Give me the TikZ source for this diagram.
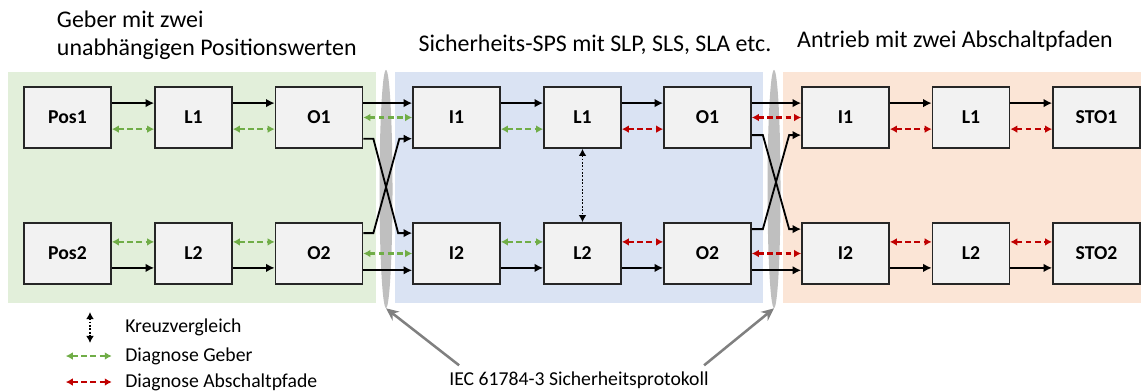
\documentclass[tikz,border=0pt]{standalone}
\usepackage{fontspec}
\setmainfont{Carlito}
\usetikzlibrary{shapes.geometric,arrows.meta,positioning,calc}
\definecolor{geberbg}{HTML}{E2EFDA}
\definecolor{spsbg}{HTML}{DAE3F3}
\definecolor{antrbg}{HTML}{FBE5D6}
\definecolor{diaggreen}{HTML}{70AD47}
\definecolor{diagred}{HTML}{C00000}
\definecolor{boxfill}{HTML}{F2F2F2}
\definecolor{protgray}{HTML}{BFBFBF}

\begin{document}
\begin{tikzpicture}[x=0.025cm,y=-0.025cm,
  blk/.style={draw=black!85,fill=boxfill,line width=1.2pt,minimum width=2.175cm,
              minimum height=1.525cm,inner sep=0pt,
              font=\fontsize{14}{16}\selectfont\bfseries},
  blks/.style={blk,minimum width=1.925cm},
  flow/.style={-{Latex[length=6pt,width=6pt]},line width=1.3pt,black},
  dg/.style={{Latex[length=5pt,width=5.5pt]}-{Latex[length=5pt,width=5.5pt]},
             line width=1.5pt,dash pattern=on 4pt off 2.5pt,color=diaggreen},
  dr/.style={dg,color=diagred},
  kv/.style={{Latex[length=5pt,width=5.5pt]}-{Latex[length=5pt,width=5.5pt]},
             line width=1.4pt,dash pattern=on 1.2pt off 1.2pt,black},
  sep/.style={ellipse,fill=protgray,minimum width=0.325cm,
              minimum height=5.95cm,inner sep=0pt},
  prot/.style={-{Stealth[length=9pt,width=8pt]},line width=1.8pt,color=black!50},
  ttl/.style={font=\fontsize{17}{20}\selectfont,align=left},
  lgd/.style={font=\fontsize{14}{16}\selectfont,anchor=west,inner sep=0pt}
]
\useasboundingbox (0,0) rectangle (1141,391);

% Bereiche
\fill[geberbg] (8,72)   rectangle (376,303);
\fill[spsbg]   (395,72) rectangle (763,303);
\fill[antrbg]  (783,72) rectangle (1141,303);
\node[sep] (sep1) at (386,189) {};
\node[sep] (sep2) at (774,189) {};

\node[ttl,anchor=west] (tgeber) at (52,35) {Geber mit zwei\\unabh\"angigen Positionswerten};
\node[ttl] (tsps)  at (595,45) {Sicherheits-SPS mit SLP, SLS, SLA etc.};
\node[ttl] (tantr) at (955,41) {Antrieb mit zwei Abschaltpfaden};

% Geber
\node[blk]  (pos1) at (67.5,117.5)  {Pos1};
\node[blks] (gl1)  at (193.5,117.5) {L1};
\node[blk]  (go1)  at (319,117.5)   {O1};
\node[blk]  (pos2) at (67.5,253.5)  {Pos2};
\node[blks] (gl2)  at (193.5,253.5) {L2};
\node[blk]  (go2)  at (319,253.5)   {O2};

% Sicherheits-SPS
\node[blk]  (si1) at (456.5,117.5) {I1};
\node[blks] (sl1) at (582.5,117.5) {L1};
\node[blk]  (so1) at (707.5,117.5) {O1};
\node[blk]  (si2) at (456.5,253.5) {I2};
\node[blks] (sl2) at (582.5,253.5) {L2};
\node[blk]  (so2) at (707.5,253.5) {O2};

% Antrieb
\node[blk]  (ai1)  at (845.5,117.5)  {I1};
\node[blks] (al1)  at (971,117.5)    {L1};
\node[blk]  (sto1) at (1096.5,117.5) {STO1};
\node[blk]  (ai2)  at (845.5,253.5)  {I2};
\node[blks] (al2)  at (971,253.5)    {L2};
\node[blk]  (sto2) at (1096.5,253.5) {STO2};

% Kanal 1
\draw[flow] ([yshift=3.6mm]pos1.east) -- ([yshift=3.6mm]gl1.west);
\draw[flow] ([yshift=3.6mm]gl1.east)  -- ([yshift=3.6mm]go1.west);
\draw[flow] ([yshift=3.6mm]go1.east)  -- ([yshift=3.6mm]si1.west);
\draw[flow] ([yshift=3.6mm]si1.east)  -- ([yshift=3.6mm]sl1.west);
\draw[flow] ([yshift=3.6mm]sl1.east)  -- ([yshift=3.6mm]so1.west);
\draw[flow] ([yshift=3.6mm]so1.east)  -- ([yshift=3.6mm]ai1.west);
\draw[flow] ([yshift=3.6mm]ai1.east)  -- ([yshift=3.6mm]al1.west);
\draw[flow] ([yshift=3.6mm]al1.east)  -- ([yshift=3.6mm]sto1.west);

% Kanal 2
\draw[flow] ([yshift=-3.6mm]pos2.east) -- ([yshift=-3.6mm]gl2.west);
\draw[flow] ([yshift=-3.6mm]gl2.east)  -- ([yshift=-3.6mm]go2.west);
\draw[flow] ([yshift=-4.2mm]go2.east)  -- ([yshift=-4.2mm]si2.west);
\draw[flow] ([yshift=-3.6mm]si2.east)  -- ([yshift=-3.6mm]sl2.west);
\draw[flow] ([yshift=-3.6mm]sl2.east)  -- ([yshift=-3.6mm]so2.west);
\draw[flow] ([yshift=-4.2mm]so2.east)  -- ([yshift=-4.2mm]ai2.west);
\draw[flow] ([yshift=-3.6mm]ai2.east)  -- ([yshift=-3.6mm]al2.west);
\draw[flow] ([yshift=-3.6mm]al2.east)  -- ([yshift=-3.6mm]sto2.west);

% gekreuzte Kanaele
\draw[flow] ([yshift=-5.3mm]go1.east) -- ++(10,0)
  -- ([xshift=-3.5mm,yshift=5.1mm]si2.west) -- ([yshift=5.1mm]si2.west);
\draw[flow] ([yshift=5.1mm]go2.east) -- ++(10,0)
  -- ([xshift=-3.2mm,yshift=-5.3mm]si1.west) -- ([yshift=-5.3mm]si1.west);
\draw[flow] ([yshift=-4.4mm]so1.east) -- ++(11,0)
  -- ([xshift=-3mm,yshift=6.1mm]ai2.west) -- ([yshift=6.1mm]ai2.west);
\draw[flow] ([yshift=6.1mm]so2.east) -- ++(11,0)
  -- ([xshift=-3mm,yshift=-4.4mm]ai1.west) -- ([yshift=-4.4mm]ai1.west);

% Diagnose Geber
\draw[dg] ([yshift=-2.9mm]pos1.east) -- ([yshift=-2.9mm]gl1.west);
\draw[dg] ([yshift=-2.9mm]gl1.east)  -- ([yshift=-2.9mm]go1.west);
\draw[dg] (go1.east) -- (si1.west);
\draw[dg] ([yshift=-2.9mm]si1.east)  -- ([yshift=-2.9mm]sl1.west);
\draw[dg] ([yshift=2.9mm]pos2.east)  -- ([yshift=2.9mm]gl2.west);
\draw[dg] ([yshift=2.9mm]gl2.east)   -- ([yshift=2.9mm]go2.west);
\draw[dg] (go2.east) -- (si2.west);
\draw[dg] ([yshift=2.9mm]si2.east)   -- ([yshift=2.9mm]sl2.west);

% Diagnose Abschaltpfade
\draw[dr] ([yshift=-2.9mm]sl1.east) -- ([yshift=-2.9mm]so1.west);
\draw[dr] (so1.east) -- (ai1.west);
\draw[dr] ([yshift=-2.9mm]ai1.east) -- ([yshift=-2.9mm]al1.west);
\draw[dr] ([yshift=-2.9mm]al1.east) -- ([yshift=-2.9mm]sto1.west);
\draw[dr] ([yshift=2.9mm]sl2.east)  -- ([yshift=2.9mm]so2.west);
\draw[dr] (so2.east) -- (ai2.west);
\draw[dr] ([yshift=2.9mm]ai2.east)  -- ([yshift=2.9mm]al2.west);
\draw[dr] ([yshift=2.9mm]al2.east)  -- ([yshift=2.9mm]sto2.west);

% Kreuzvergleich
\draw[kv] (sl1.south) -- (sl2.north);

% Legende
\node[lgd] (lkv) at (125,327) {Kreuzvergleich};
\node[lgd] (ldg) at (125,356) {Diagnose Geber};
\node[lgd] (ldr) at (125,382) {Diagnose Abschaltpfade};
\coordinate (kvtop) at (90,312);
\coordinate (kvbot) at (90,343);
\draw[kv] (kvtop) -- (kvbot);
\draw[dg] ([xshift=-14.8mm]ldg.west) -- ([xshift=-3.3mm]ldg.west);
\draw[dr] ([xshift=-14.8mm]ldr.west) -- ([xshift=-3.3mm]ldr.west);

% Protokoll
\node[font=\fontsize{14}{16}\selectfont,inner sep=0pt] (iec) at (579,380)
  {IEC 61784-3 Sicherheitsprotokoll};
\draw[prot] ([xshift=2.5mm,yshift=1.5mm]iec.north west) -- (sep1.south);
\draw[prot] ([xshift=-1.2mm,yshift=1.5mm]iec.north east) -- (sep2.south);
\end{tikzpicture}
\end{document}
